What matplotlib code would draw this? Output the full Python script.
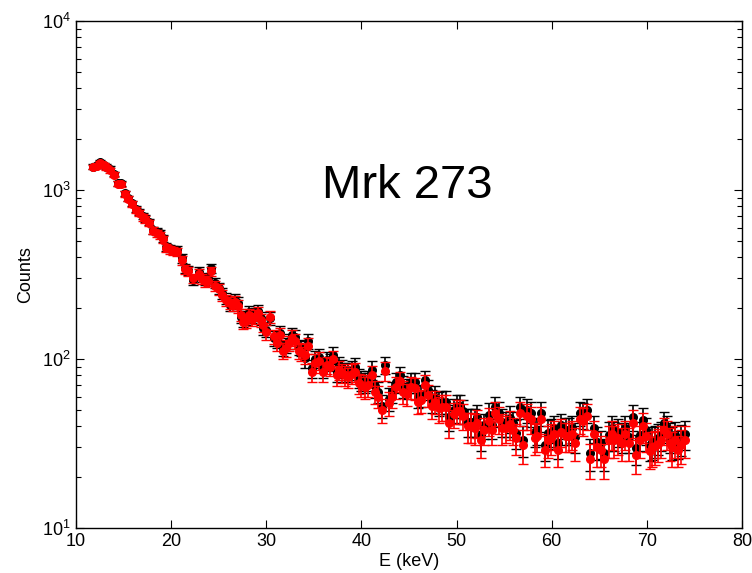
import numpy as np
import matplotlib
matplotlib.use('Agg')
import matplotlib.pyplot as plt
from matplotlib.ticker import LogLocator, NullFormatter

plt.rcParams['font.family'] = ['Liberation Sans', 'DejaVu Sans']
plt.rcParams['mathtext.default'] = 'regular'

# energy bins (keV)
energy = [11.8, 12.2, 12.5, 12.9, 13.2, 13.6, 14.0, 14.45, 14.7, 15.2,
          15.5, 15.9, 16.3, 16.6, 17.0, 17.3, 17.7, 18.1, 18.5, 18.8,
          19.2, 19.5, 19.9, 20.2, 20.6, 21.1, 21.5, 21.8, 22.3, 22.9,
          23.25, 23.6, 23.9, 24.2, 24.6, 25.0, 25.3, 25.8, 26.2, 26.5,
          26.7, 27.0, 27.3, 27.6, 27.9, 28.2, 28.5, 28.8, 29.1, 29.4,
          29.7, 30.0, 30.4, 30.8, 31.1, 31.4, 31.8, 32.1, 32.4, 32.7,
          33.0, 33.4, 33.7, 34.1, 34.4, 34.8, 35.15, 35.5, 36.0, 36.4,
          36.7, 37.0, 37.4, 37.7, 38.0, 38.3, 38.6, 39.0, 39.3, 39.7,
          40.0, 40.4, 40.7, 41.1, 41.4, 41.8, 42.2, 42.5, 42.9, 43.2,
          43.6, 44.1, 44.4, 44.8, 45.2, 45.6, 46.0, 46.3, 46.7, 47.0,
          47.4, 47.7, 48.2, 48.5, 48.9, 49.2, 49.7, 50.0, 50.4, 50.7,
          51.2, 51.5, 51.9, 52.2, 52.6, 52.9, 53.4, 53.7, 54.0, 54.5,
          54.8, 55.2, 55.6, 55.9, 56.3, 56.7, 57.0, 57.4, 57.8, 58.2,
          58.5, 58.9, 59.3, 59.6, 59.9, 60.3, 60.7, 61.0, 61.5, 61.8,
          62.1, 62.5, 63.0, 63.3, 63.7, 64.0, 64.4, 64.8, 65.2, 65.5,
          66.0, 66.3, 66.6, 67.0, 67.4, 67.7, 68.1, 68.5, 68.9, 69.3,
          69.6, 69.9, 70.3, 70.6, 70.9, 71.2, 71.5, 71.8, 72.1, 72.4,
          72.7, 73.0, 73.3, 73.6, 74.0]

# black spectrum
counts_a = [1374, 1406, 1470, 1406, 1374, 1340, 1244, 1095, 1100, 956,
            893, 834, 769, 745, 702, 680, 649, 579, 566, 554,
            518, 462, 452, 442, 442, 394, 344, 336, 293, 329,
            305, 293, 300, 344, 281, 262, 245, 228, 209, 218,
            224, 215, 178, 170, 174, 191, 178, 185, 193, 175,
            152, 149, 174, 133, 129, 142, 116, 121, 128, 139,
            135, 118, 116, 101, 127, 88, 100, 103, 88, 99,
            96, 106, 84, 92, 88, 84, 84, 86, 90, 77,
            75, 73, 75, 86, 69, 64, 53, 92, 58, 64,
            73, 80, 69, 67, 73, 73, 60, 61, 75, 66,
            57, 60, 55, 56, 56, 45.6, 50, 53, 53, 49,
            42.6, 42.6, 42.6, 45.6, 35.5, 40.6, 46.6, 40.6, 52, 47.7,
            42.6, 41.6, 44.6, 41.6, 36.3, 52, 33.2, 50, 47.7, 37.2,
            38, 48, 31, 36.3, 37, 38.9, 31.7, 40.6, 38, 38,
            39, 34.7, 48, 46.6, 50, 27.7, 39, 32.4, 31.7, 27.7,
            35.5, 39, 35.5, 37, 34.7, 39, 34.7, 45.6, 29.6, 35.5,
            43.5, 38, 31, 32.4, 33, 34, 35.5, 41.6, 39, 34.7,
            32.4, 35.5, 31.7, 33.5, 36]

# red spectrum
counts_b = [1370, 1390, 1440, 1400, 1360, 1310, 1230, 1090, 1080, 950,
            890, 825, 760, 735, 690, 670, 640, 575, 555, 540,
            510, 455, 445, 435, 430, 385, 340, 330, 300, 320,
            298, 288, 290, 330, 272, 258, 238, 222, 215, 210,
            218, 205, 182, 165, 168, 182, 172, 178, 186, 170,
            158, 144, 178, 136, 124, 138, 112, 116, 124, 134,
            128, 112, 110, 105, 120, 84, 95, 98, 84, 92,
            90, 100, 80, 86, 83, 80, 78, 82, 84, 72,
            70, 68, 70, 80, 64, 60, 50, 85, 55, 60,
            68, 74, 64, 62, 68, 67, 56, 57, 70, 61,
            53, 56, 51, 52, 52, 42, 47, 49, 49, 46,
            40, 40, 39, 42, 33, 38, 43, 38, 48, 44,
            39, 39, 41, 38, 34, 48, 31, 46, 44, 34,
            35, 44, 29, 33, 34, 36, 29, 37, 35, 35,
            36, 32, 44, 43, 46, 25.5, 36, 30, 29, 25.5,
            33, 36, 33, 34, 32, 36, 32, 42, 27, 33,
            40, 35, 28.5, 30, 30.5, 31.5, 33, 38, 36, 32,
            30, 33, 29, 31, 33]

# 1-sigma errors (counts)
counts_err = [43, 43, 44, 43, 43, 42, 41, 38, 38, 36,
              34, 33, 32, 31, 30, 30, 29, 28, 27, 27,
              26, 25, 24, 24, 24, 23, 21, 21, 20, 21,
              20, 20, 20, 21, 19, 19, 18, 17, 17, 17,
              17, 17, 15, 15, 15, 16, 15, 16, 16, 15,
              14, 14, 15, 13, 13, 14, 12, 13, 13, 14,
              13, 12, 12, 12, 13, 11, 12, 12, 11, 11,
              11, 12, 11, 11, 11, 11, 11, 11, 11, 10,
              10, 10, 10, 11, 10, 9, 8, 11, 9, 9,
              10, 10, 10, 9, 10, 10, 9, 9, 10, 9,
              9, 9, 9, 9, 9, 8, 8, 8, 8, 8,
              8, 8, 8, 8, 7, 7, 8, 7, 8, 8,
              8, 7, 8, 7, 7, 8, 7, 8, 8, 7,
              7, 8, 6, 7, 7, 7, 6, 7, 7, 7,
              7, 7, 8, 8, 8, 6, 7, 7, 6, 6,
              7, 7, 7, 7, 7, 7, 7, 8, 6, 7,
              8, 7, 6, 7, 7, 7, 7, 7, 7, 7,
              7, 7, 6, 7, 7]

fig = plt.figure(figsize=(7.52, 5.73), dpi=100)
ax = fig.add_axes([0.101, 0.0785, 0.8856, 0.8848])

ax.errorbar(energy, counts_a, yerr=counts_err, fmt='o', color='black',
            ecolor='black', ms=5.5, mec='black', elinewidth=1.2,
            capsize=3.8, capthick=1.0, zorder=2)
ax.errorbar(energy, counts_b, yerr=counts_err, fmt='o', color='red',
            ecolor='red', ms=5.5, mec='red', elinewidth=1.2,
            capsize=3.8, capthick=1.0, zorder=3)

ax.set_yscale('log')
ax.set_xlim(10, 80)
ax.set_ylim(10, 1e4)
ax.set_xticks(range(10, 81, 10))
ax.yaxis.set_minor_locator(LogLocator(base=10, subs=np.arange(2, 10)))
ax.yaxis.set_minor_formatter(NullFormatter())

ax.tick_params(which='both', direction='in', top=True, right=True,
               labelsize=13, width=0.8)
ax.tick_params(which='major', length=6)
ax.tick_params(which='minor', length=3.5)
for sp in ax.spines.values():
    sp.set_linewidth(1.0)

ax.set_xlabel('E (keV)', fontsize=13, labelpad=2)
ax.set_ylabel('Counts', fontsize=13, labelpad=6)

ax.text(0.497, 0.674, 'Mrk 273', transform=ax.transAxes, fontsize=34,
        ha='center', va='center')

fig.savefig('out.png', dpi=100)
